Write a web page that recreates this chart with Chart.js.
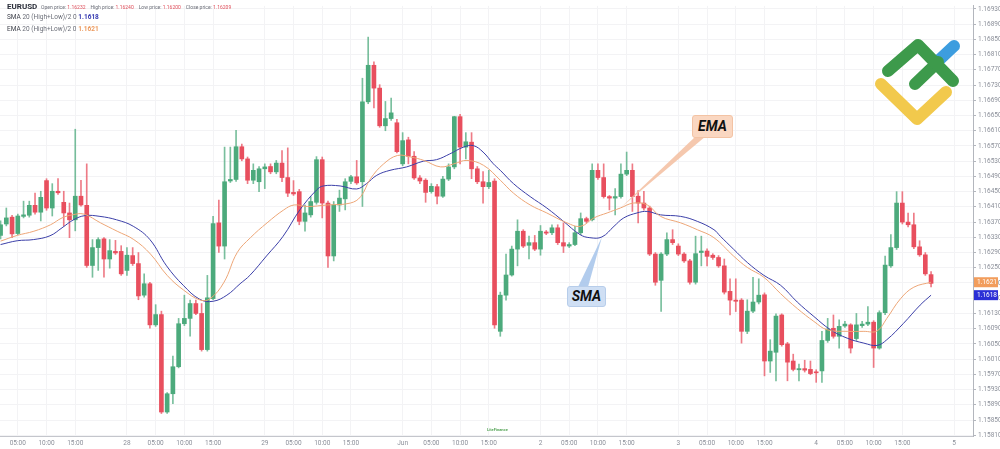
<!DOCTYPE html>
<html>
<head>
<meta charset="utf-8">
<script src="https://cdn.jsdelivr.net/npm/chart.js@4/dist/chart.umd.min.js"></script>
<style>
  html, body { margin: 0; padding: 0; background: #fff; }
  #wrap { position: relative; width: 1000px; height: 449px; font-family: Roboto, "Noto Sans", sans-serif; }
  #wrap canvas { position: absolute; left: 0; top: 0; }
  .t { position: absolute; white-space: nowrap; line-height: 1; }
  .lbl { font-size: 5px; color: #6b6e78; }
  .red { color: #e0505c; }
  .box { position: absolute; font-weight: 700; font-style: italic; font-size: 14px; color: #111;
         text-align: center; border-radius: 3px; font-family: Roboto, sans-serif; }
</style>
</head>
<body>
<div id="wrap">
  <canvas id="chart" width="1000" height="449"></canvas>

  <div class="t" style="left:7px;top:3px;font-size:8px;font-weight:700;color:#2a2e39">EURUSD</div>
  <div class="t lbl" id="ohlc" style="left:41px;top:5px"></div>
  <div class="t" id="smaTxt" style="left:7px;top:14px;font-size:6.5px;color:#6b6e78"></div>
  <div class="t" id="emaTxt" style="left:7px;top:26px;font-size:6.5px;color:#6b6e78"></div>

  <div class="box" style="left:692px;top:115px;width:39px;height:21px;line-height:21px;background:#fad7c1;border:1px solid #f3c3a4">EMA</div>
  <div class="box" style="left:567px;top:286px;width:37px;height:19px;line-height:19px;background:#cfdff4;border:1px solid #b7cdea">SMA</div>

  <div class="t" style="left:487px;top:428px;font-size:4px;color:#5aa75c;font-weight:700">LiteFinance</div>
</div>

<script>
// свечи EURUSD, 1 час
const open = [1.16335,1.16365,1.16383,1.16340,1.16385,1.16388,1.16414,1.16396,1.16479,1.16407,
  1.16451,1.16422,1.16394,1.16376,1.16438,1.16414,1.16256,1.16303,1.16326,1.16273,
  1.16293,1.16293,1.16243,1.16282,1.16261,1.16178,1.16208,1.16100,1.16127,1.15871,
  1.15919,1.15990,1.16103,1.16117,1.16156,1.16130,1.16035,1.16169,1.16368,1.16307,
  1.16478,1.16482,1.16568,1.16536,1.16480,1.16476,1.16510,1.16516,1.16502,1.16525,
  1.16487,1.16448,1.16450,1.16372,1.16389,1.16422,1.16534,1.16420,1.16281,1.16415,
  1.16431,1.16477,1.16489,1.16476,1.16686,1.16782,1.16722,1.16623,1.16642,1.16631,
  1.16523,1.16586,1.16543,1.16486,1.16480,1.16450,1.16463,1.16438,1.16483,1.16515,
  1.16647,1.16567,1.16580,1.16510,1.16476,1.16463,1.16478,1.16083,1.16178,1.16231,
  1.16299,1.16346,1.16309,1.16316,1.16299,1.16344,1.16342,1.16355,1.16316,1.16307,
  1.16311,1.16342,1.16379,1.16376,1.16506,1.16487,1.16437,1.16433,1.16437,1.16496,
  1.16506,1.16438,1.16420,1.16407,1.16286,1.16217,1.16286,1.16324,1.16307,1.16286,
  1.16268,1.16212,1.16290,1.16294,1.16283,1.16277,1.16255,1.16188,1.16165,1.16165,
  1.16083,1.16136,1.16160,1.16179,1.16005,1.16028,1.16126,1.16050,1.16005,1.15982,
  1.15985,1.15983,1.15976,1.15979,1.16059,1.16091,1.16070,1.16097,1.16100,1.16064,
  1.16098,1.16102,1.16107,1.16039,1.16132,1.16255,1.16303,1.16420,1.16370,1.16363,
  1.16305,1.16284,1.16232];

const high = [1.16373,1.16407,1.16388,1.16391,1.16425,1.16425,1.16446,1.16451,1.16484,1.16471,
  1.16484,1.16451,1.16420,1.16614,1.16480,1.16523,1.16324,1.16329,1.16329,1.16324,
  1.16322,1.16308,1.16303,1.16303,1.16290,1.16234,1.16212,1.16153,1.16136,1.15922,
  1.16018,1.16117,1.16178,1.16165,1.16165,1.16156,1.16230,1.16385,1.16428,1.16567,
  1.16567,1.16611,1.16575,1.16541,1.16523,1.16516,1.16523,1.16523,1.16532,1.16558,
  1.16565,1.16479,1.16456,1.16415,1.16437,1.16542,1.16541,1.16425,1.16424,1.16454,
  1.16484,1.16493,1.16532,1.16748,1.16856,1.16791,1.16731,1.16687,1.16696,1.16640,
  1.16605,1.16593,1.16555,1.16492,1.16484,1.16471,1.16469,1.16490,1.16523,1.16648,
  1.16653,1.16605,1.16605,1.16516,1.16503,1.16506,1.16484,1.16186,1.16286,1.16307,
  1.16376,1.16350,1.16333,1.16335,1.16361,1.16348,1.16363,1.16363,1.16368,1.16316,
  1.16359,1.16394,1.16383,1.16523,1.16523,1.16523,1.16440,1.16458,1.16523,1.16554,
  1.16523,1.16453,1.16451,1.16412,1.16290,1.16290,1.16342,1.16350,1.16313,1.16290,
  1.16272,1.16333,1.16333,1.16300,1.16287,1.16282,1.16273,1.16221,1.16221,1.16169,
  1.16166,1.16225,1.16221,1.16184,1.16061,1.16129,1.16129,1.16054,1.16023,1.15997,
  1.16007,1.16005,1.15982,1.16083,1.16117,1.16126,1.16113,1.16109,1.16103,1.16130,
  1.16109,1.16148,1.16111,1.16137,1.16281,1.16337,1.16450,1.16450,1.16394,1.16394,
  1.16321,1.16290,1.16240];

const low = [1.16326,1.16360,1.16329,1.16337,1.16381,1.16383,1.16391,1.16373,1.16401,1.16386,
  1.16443,1.16360,1.16329,1.16347,1.16412,1.16251,1.16225,1.16243,1.16225,1.16249,
  1.16285,1.16230,1.16230,1.16256,1.16166,1.16173,1.16091,1.16096,1.15867,1.15867,
  1.15893,1.15987,1.16098,1.16070,1.16127,1.16031,1.16031,1.16166,1.16290,1.16273,
  1.16474,1.16477,1.16531,1.16471,1.16471,1.16450,1.16458,1.16497,1.16497,1.16476,
  1.16437,1.16440,1.16363,1.16346,1.16383,1.16417,1.16381,1.16251,1.16268,1.16398,
  1.16402,1.16471,1.16469,1.16411,1.16681,1.16670,1.16619,1.16610,1.16637,1.16552,
  1.16518,1.16523,1.16482,1.16471,1.16422,1.16446,1.16418,1.16435,1.16479,1.16510,
  1.16523,1.16536,1.16484,1.16471,1.16420,1.16458,1.16091,1.16070,1.16165,1.16228,
  1.16255,1.16303,1.16273,1.16295,1.16283,1.16337,1.16337,1.16311,1.16290,1.16303,
  1.16308,1.16337,1.16368,1.16373,1.16482,1.16433,1.16402,1.16389,1.16433,1.16492,
  1.16398,1.16368,1.16401,1.16282,1.16204,1.16135,1.16282,1.16311,1.16282,1.16264,
  1.16207,1.16207,1.16255,1.16255,1.16272,1.16251,1.16181,1.16126,1.16135,1.16052,
  1.16077,1.16132,1.16155,1.15966,1.15975,1.15953,1.16044,1.15953,1.15979,1.15953,
  1.15976,1.15969,1.15949,1.15949,1.16054,1.16065,1.16039,1.16093,1.16026,1.16059,
  1.16093,1.16098,1.15988,1.16036,1.16127,1.16251,1.16298,1.16365,1.16357,1.16300,
  1.16280,1.16230,1.16200];

const close = [1.16363,1.16381,1.16339,1.16386,1.16389,1.16414,1.16396,1.16435,1.16407,1.16451,
  1.16447,1.16394,1.16376,1.16438,1.16415,1.16256,1.16303,1.16324,1.16273,1.16295,
  1.16289,1.16234,1.16283,1.16261,1.16176,1.16208,1.16100,1.16127,1.15871,1.15919,
  1.15990,1.16103,1.16117,1.16156,1.16130,1.16035,1.16171,1.16366,1.16307,1.16476,
  1.16482,1.16568,1.16536,1.16480,1.16506,1.16510,1.16515,1.16502,1.16525,1.16487,
  1.16446,1.16444,1.16372,1.16394,1.16424,1.16534,1.16420,1.16281,1.16415,1.16433,
  1.16476,1.16489,1.16473,1.16686,1.16782,1.16722,1.16623,1.16642,1.16657,1.16555,
  1.16584,1.16543,1.16486,1.16478,1.16448,1.16464,1.16438,1.16483,1.16515,1.16647,
  1.16567,1.16581,1.16510,1.16476,1.16463,1.16474,1.16100,1.16178,1.16231,1.16299,
  1.16346,1.16307,1.16316,1.16299,1.16346,1.16341,1.16355,1.16316,1.16307,1.16311,
  1.16342,1.16379,1.16372,1.16506,1.16487,1.16437,1.16433,1.16437,1.16496,1.16506,
  1.16437,1.16420,1.16407,1.16286,1.16212,1.16286,1.16324,1.16316,1.16286,1.16268,
  1.16212,1.16287,1.16294,1.16280,1.16277,1.16255,1.16186,1.16165,1.16162,1.16083,
  1.16136,1.16160,1.16178,1.16005,1.16031,1.16123,1.16048,1.16002,1.15983,1.15985,
  1.15981,1.15972,1.15974,1.16059,1.16089,1.16070,1.16096,1.16102,1.16039,1.16100,
  1.16102,1.16107,1.16039,1.16132,1.16257,1.16303,1.16420,1.16370,1.16363,1.16305,
  1.16284,1.16234,1.16209];

// SMA 20 / EMA 20 (High+Low)/2: позиция свечи и значение
const smaK = [0,2.9,5.7,8.6,10.7,12.7,14.7,17.3,20.2,23.1,26,28.9,31.8,34.7,37,39.4,41.7,43.4,46.3,49.2,
  52.1,55,56.2,59.1,62,63.7,65.5,67.8,70.7,73.6,75.9,78.2,80.6,82.3,84,85.8,87,89.3,92.2,95.1,
  98,100.9,102.6,104.7,106.8,108.5,110.8,112.6,114.9,118.4,121.3,124.2,125.3,127.6,130,132.9,135.8,138.7,141.6,144.5,
  147.4,150.3,152.6,154.3,157.2,160.1,162];
const smaV = [1.16311,1.16321,1.16324,1.16334,1.16355,1.16376,1.16387,1.16385,1.16376,1.16359,1.16324,1.16255,1.16204,1.16167,1.16162,1.16178,1.16208,1.16230,1.16281,1.16333,
  1.16402,1.16454,1.16465,1.16465,1.16457,1.16471,1.16493,1.16506,1.16515,1.16530,1.16534,1.16549,1.16567,1.16571,1.16554,1.16523,1.16506,1.16471,1.16437,1.16407,
  1.16372,1.16337,1.16329,1.16331,1.16359,1.16381,1.16394,1.16398,1.16389,1.16385,1.16372,1.16350,1.16333,1.16299,1.16264,1.16230,1.16204,1.16160,1.16122,1.16087,
  1.16065,1.16052,1.16046,1.16061,1.16104,1.16152,1.16178];

const emaK = [0,2.9,5.8,8.7,10.7,12.5,14.5,17.4,20.3,23.2,26.1,29,31.9,34.8,36.5,38.9,41.2,43.5,46.4,49.3,
  51.1,53.4,56.9,60.9,62.7,64.4,66.7,69.1,71.4,73.7,76.6,78.9,81.2,84.1,87,89.3,92.2,95.1,98.6,101,
  103.3,105.6,107.9,110.2,112.6,114.9,118.4,121.3,124.2,127.6,130,132.9,135.8,138.7,141.6,143.9,147.4,150.3,152.6,154.3,
  156.7,159,162];
const emaV = [1.16320,1.16335,1.16346,1.16363,1.16381,1.16389,1.16391,1.16368,1.16346,1.16324,1.16286,1.16230,1.16191,1.16165,1.16169,1.16212,1.16290,1.16329,1.16368,1.16402,
  1.16415,1.16411,1.16415,1.16420,1.16437,1.16484,1.16523,1.16545,1.16541,1.16532,1.16515,1.16523,1.16532,1.16519,1.16480,1.16446,1.16415,1.16394,1.16368,1.16359,
  1.16381,1.16394,1.16407,1.16420,1.16415,1.16385,1.16368,1.16350,1.16329,1.16281,1.16251,1.16225,1.16182,1.16143,1.16109,1.16087,1.16083,1.16083,1.16084,1.16117,
  1.16169,1.16199,1.16212];

// подписи осей
const dayLabels = ['27', '28', '29', 'Jun', '2', '3', '4', '5'];
const hourLabels = ['05:00', '10:00', '15:00'];
const yTicks = [1.15810,1.15850,1.15890,1.15930,1.15970,1.16010,1.16050,1.16090,1.16130,1.16170,
  1.16210,1.16250,1.16290,1.16330,1.16370,1.16410,1.16450,1.16490,1.16530,1.16570,
  1.16610,1.16650,1.16690,1.16730,1.16770,1.16810,1.16850,1.16890,1.16930];

const xMin = -0.1, xMax = 169.3;
const xTickPos = [];
const xTickText = [];
dayLabels.forEach((d, i) => {
  const start = 24 * i - 2; // первая свеча — 27-е, 02:00
  if (start >= xMin) { xTickPos.push(start); xTickText.push(d); }
  hourLabels.forEach((h, j) => {
    const p = start + 5 * (j + 1);
    if (p >= xMin && p <= xMax) { xTickPos.push(p); xTickText.push(h); }
  });
});

const last = close.length - 1;
document.getElementById('ohlc').innerHTML =
  'Open price: <span class="red">' + open[last].toFixed(5) + '</span>&nbsp;&nbsp;&nbsp;&nbsp;' +
  'High price: <span class="red">' + high[last].toFixed(5) + '</span>&nbsp;&nbsp;&nbsp;&nbsp;' +
  'Low price: <span class="red">' + low[last].toFixed(5) + '</span>&nbsp;&nbsp;&nbsp;&nbsp;' +
  'Close price: <span class="red">' + close[last].toFixed(5) + '</span>';
document.getElementById('smaTxt').innerHTML =
  '<span style="color:#40434d">SMA</span> 20 (High+Low)/2 0 <span style="color:#3337b0;font-weight:700">' + smaV[smaV.length - 1].toFixed(4) + '</span>';
document.getElementById('emaTxt').innerHTML =
  '<span style="color:#40434d">EMA</span> 20 (High+Low)/2 0 <span style="color:#ec9a5e;font-weight:700">' + emaV[emaV.length - 1].toFixed(4) + '</span>';

const upColor = '#4caa7c';
const downColor = '#e84f5e';
const isUp = close.map((c, i) => c >= open[i]);

const smaColor = '#3b3fa8';
const emaColor = '#eda677';

/**
 * Логотип, выноски к линиям и плашки цены на правой оси
 */
const overlayPlugin = {
  id: 'overlay',
  afterDatasetsDraw(chart) {
    const c = chart.ctx;
    const xs = chart.scales.x, ys = chart.scales.y;

    const ei = emaK.indexOf(107.9);
    const ex = xs.getPixelForValue(emaK[ei]), ey = ys.getPixelForValue(emaV[ei]);
    c.save();
    c.fillStyle = 'rgba(243, 190, 160, 0.85)';
    c.beginPath();
    c.moveTo(696, 136); c.lineTo(706, 136); c.lineTo(ex, ey); c.closePath();
    c.fill();

    const si = smaK.indexOf(104.7);
    const sx = xs.getPixelForValue(smaK[si]), sy = ys.getPixelForValue(smaV[si]);
    c.fillStyle = 'rgba(170, 198, 235, 0.9)';
    c.beginPath();
    c.moveTo(578, 287); c.lineTo(588, 287); c.lineTo(sx, sy); c.closePath();
    c.fill();

    // логотип
    c.lineCap = 'round';
    c.lineJoin = 'round';
    c.lineWidth = 12;
    c.strokeStyle = '#f2c94c';
    c.beginPath(); c.moveTo(881, 84); c.lineTo(917, 119); c.lineTo(946, 92); c.stroke();
    c.strokeStyle = '#3d9ddf';
    c.beginPath(); c.moveTo(937, 62); c.lineTo(954, 46); c.stroke();
    c.strokeStyle = '#3d9a4b';
    c.beginPath(); c.moveTo(915, 84); c.lineTo(938, 62); c.stroke();
    c.beginPath(); c.moveTo(888, 71); c.lineTo(918, 45); c.lineTo(953, 81); c.stroke();
    c.restore();
  },
  afterDraw(chart) {
    const c = chart.ctx;
    const ys = chart.scales.y;
    const left = chart.chartArea.right + 1;
    const badges = [
      { v: emaV[emaV.length - 1], color: '#f29d5c' },
      { v: smaV[smaV.length - 1], color: '#2b2fd6' }
    ];
    c.save();
    c.font = '6.5px Roboto';
    c.textBaseline = 'middle';
    badges.forEach(b => {
      const y = ys.getPixelForValue(b.v);
      c.fillStyle = b.color;
      c.fillRect(left, y - 5, 24, 10);
      c.fillStyle = '#fff';
      c.fillText(b.v.toFixed(4), left + 3, y + 0.5);
    });
    c.restore();
  }
};

const ctx = document.getElementById('chart');
const chart = new Chart(ctx, {
  type: 'bar',
  data: {
    datasets: [
      {
        type: 'line',
        label: 'EMA',
        data: emaK.map((k, i) => ({ x: k, y: emaV[i] })),
        borderColor: emaColor,
        borderWidth: 1,
        pointRadius: 0,
        tension: 0.4,
        order: 0
      },
      {
        type: 'line',
        label: 'SMA',
        data: smaK.map((k, i) => ({ x: k, y: smaV[i] })),
        borderColor: smaColor,
        borderWidth: 1,
        pointRadius: 0,
        tension: 0.4,
        order: 0
      },
      {
        label: 'body',
        data: open.map((o, i) => ({ x: i, y: [o, close[i]] })),
        backgroundColor: isUp.map(u => u ? upColor : downColor),
        barThickness: 4,
        minBarLength: 1,
        grouped: false,
        order: 1
      },
      {
        label: 'wick',
        data: open.map((o, i) => ({ x: i, y: [low[i], high[i]] })),
        backgroundColor: isUp.map(u => u ? 'rgba(76,170,124,0.75)' : 'rgba(232,79,94,0.75)'),
        barThickness: 1,
        grouped: false,
        order: 2
      }
    ]
  },
  options: {
    responsive: false,
    animation: false,
    layout: { padding: 0 },
    plugins: { legend: { display: false }, tooltip: { enabled: false } },
    scales: {
      x: {
        type: 'linear',
        min: xMin,
        max: xMax,
        offset: false,
        afterBuildTicks: s => { s.ticks = xTickPos.map(v => ({ value: v })); },
        afterFit: s => { s.height = 13; },
        ticks: {
          autoSkip: false,
          maxRotation: 0,
          padding: 3,
          color: '#8b8f99',
          font: { size: 6.5, family: 'Roboto' },
          callback: (v, i) => xTickText[i]
        },
        grid: { color: '#f3f3f5', tickLength: 0, offset: false },
        border: { color: '#c4c6cc' }
      },
      y: {
        position: 'right',
        min: 1.15808,
        max: 1.16938,
        afterBuildTicks: s => { s.ticks = yTicks.map(v => ({ value: v })); },
        afterFit: s => { s.width = 27; },
        ticks: {
          padding: 2,
          color: '#8b8f99',
          font: { size: 6.5, family: 'Roboto' },
          callback: v => v.toFixed(5)
        },
        grid: { color: '#f3f3f5', tickColor: '#b3b6bd', tickLength: 3 },
        border: { color: '#b3b6bd' }
      }
    }
  },
  plugins: [overlayPlugin]
});
</script>
</body>
</html>
